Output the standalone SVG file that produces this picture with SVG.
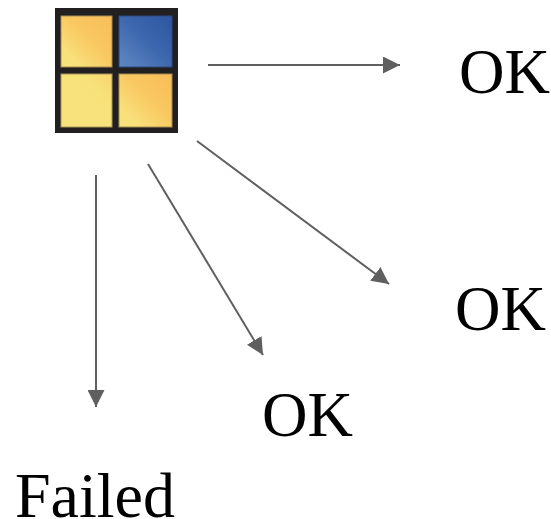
<svg xmlns="http://www.w3.org/2000/svg" width="551" height="519" viewBox="0 0 551 519">
<style>
.lbl{font-family:"Liberation Serif","Times New Roman",serif;font-size:63px;fill:#000}
.conn{stroke:#5f5f5f;stroke-width:2;fill:none;marker-end:url(#arrow)}
.cell{stroke-width:1}
</style>
<defs>
<marker id="arrow" markerUnits="userSpaceOnUse" markerWidth="17" markerHeight="17" viewBox="0 0 16 16" refX="16" refY="8" orient="auto">
<path d="M0 0L16 8L0 16Z" fill="#5f5f5f"/>
</marker>
<linearGradient id="gOrange" x1="0" y1="1" x2="1" y2="0">
<stop offset="0" stop-color="#f8e37c"/><stop offset="0.2" stop-color="#f8e07a"/><stop offset="0.55" stop-color="#f9c862"/><stop offset="1" stop-color="#f8bd58"/>
</linearGradient>
<linearGradient id="gYellow" x1="0" y1="1" x2="1" y2="0">
<stop offset="0" stop-color="#f7e37d"/><stop offset="0.7" stop-color="#f7e27a"/><stop offset="1" stop-color="#f8d56f"/>
</linearGradient>
<linearGradient id="gBlue" x1="0" y1="1" x2="1" y2="0">
<stop offset="0" stop-color="#5f89c4"/><stop offset="0.55" stop-color="#3c66ad"/><stop offset="1" stop-color="#2d56a0"/>
</linearGradient>
</defs>
<g id="icon">
<rect x="55" y="8" width="123" height="125" fill="#221f20"/>
<rect class="cell" x="61" y="16" width="51" height="51" fill="url(#gOrange)" stroke="#a58c50"/>
<rect class="cell" x="119" y="16" width="53" height="51" fill="url(#gBlue)" stroke="#2c4a80"/>
<rect class="cell" x="61" y="74" width="51" height="53" fill="url(#gYellow)" stroke="#a59658"/>
<rect class="cell" x="119" y="74" width="53" height="53" fill="url(#gOrange)" stroke="#a58c50"/>
</g>
<g id="connectors">
<line class="conn" x1="208" y1="65" x2="400" y2="65"/>
<line class="conn" x1="197" y1="141" x2="389" y2="284"/>
<line class="conn" x1="148" y1="164" x2="263" y2="355"/>
<line class="conn" x1="96" y1="175" x2="96" y2="407"/>
</g>
<g id="ok-top"><text class="lbl" x="459" y="93">OK</text></g>
<g id="ok-right"><text class="lbl" x="455" y="330">OK</text></g>
<g id="ok-bottom"><text class="lbl" x="262" y="436">OK</text></g>
<g id="failed"><text class="lbl" x="15" y="517" style="font-size:64px">Failed</text></g>
</svg>
